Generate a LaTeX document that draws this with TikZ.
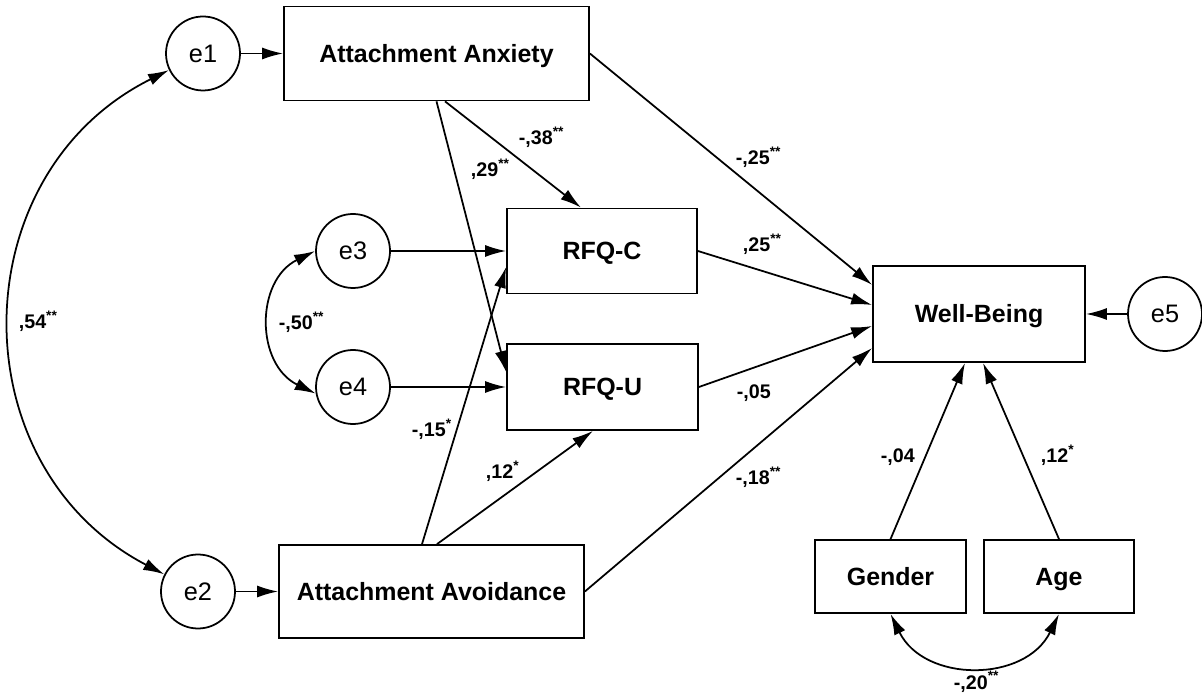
\documentclass[tikz,border=0pt]{standalone}
\usepackage{fontspec}
\setmainfont{Liberation Sans}
\usetikzlibrary{arrows.meta}

\begin{document}
\begin{tikzpicture}[line width=0.5pt,>={Latex[length=0.21cm,width=0.12cm]},
	var/.style={draw,rectangle,inner sep=0pt,text height=5.1pt,text depth=0pt,font=\fontsize{7.1}{8.5}\selectfont\bfseries},
	err/.style={draw,circle,inner sep=0pt,minimum size=0.74cm,text height=5.1pt,text depth=0pt,font=\fontsize{7.2}{8.5}\selectfont},
	coef/.style={anchor=base west,inner sep=0pt,font=\fontsize{5.6}{6.5}\selectfont\bfseries}]
	\useasboundingbox (0,0) rectangle (12.02,6.96);

	\node[var,minimum width=3.05cm,minimum height=0.94cm] (aa) at (4.365,6.425) {Attachment Anxiety};
	\node[var,minimum width=3.05cm,minimum height=0.93cm] (av) at (4.315,1.045) {Attachment Avoidance};
	\node[var,minimum width=1.90cm,minimum height=0.85cm] (rfqc) at (6.02,4.45) {RFQ-C};
	\node[var,minimum width=1.91cm,minimum height=0.86cm] (rfqu) at (6.025,3.09) {RFQ-U};
	\node[var,minimum width=2.12cm,minimum height=0.96cm] (wb) at (9.79,3.82) {Well-Being};
	\node[var,minimum width=1.51cm,minimum height=0.73cm] (gender) at (8.905,1.195) {Gender};
	\node[var,minimum width=1.50cm,minimum height=0.73cm] (age) at (10.59,1.195) {Age};

	\node[err] (e1) at (2.03,6.425) {e1};
	\node[err] (e2) at (1.98,1.045) {e2};
	\node[err] (e3) at (3.53,4.45) {e3};
	\node[err] (e4) at (3.53,3.09) {e4};
	\node[err] (e5) at (11.65,3.82) {e5};

	\draw[->] (e1) -- (aa);
	\draw[->] (e2) -- (av);
	\draw[->] (e3) -- (rfqc);
	\draw[->] (e4) -- (rfqu);
	\draw[->] (e5) -- (wb);
	\draw[->] ([xshift=0.085cm]aa.south) -- ([xshift=-0.21cm]rfqc.north);
	\draw[->] (aa.south) -- ([yshift=0.15cm]rfqu.west);
	\draw[->] ([xshift=-0.095cm]av.north) -- ([yshift=-0.16cm]rfqc.west);
	\draw[->] ([xshift=0.055cm]av.north) -- ([xshift=-0.095cm]rfqu.south);
	\draw[->] (aa.east) -- ([yshift=0.29cm]wb.west);
	\draw[->] (rfqc.east) -- ([yshift=0.09cm]wb.west);
	\draw[->] (rfqu.east) -- ([yshift=-0.12cm]wb.west);
	\draw[->] (av.east) -- ([yshift=-0.34cm]wb.west);
	\draw[->] (gender.north) -- ([xshift=-0.14cm]wb.south);
	\draw[->] (age.north) -- ([xshift=0.04cm]wb.south);
	\draw[<->] (e1.206) to[bend right=63,looseness=1.18] (e2.153);
	\draw[<->] (e3.west) to[bend right=64,looseness=1.2] (e4.190);
	\draw[<->] (gender.south) to[bend right=64,looseness=1.17] (age.south);

	\node[coef] (c38) at (5.18,5.51) {-,38\textsuperscript{**}};
	\node[coef] (c29) at (4.70,5.19) {,29\textsuperscript{**}};
	\node[coef] (c25a) at (7.35,5.31) {-,25\textsuperscript{**}};
	\node[coef] (c25b) at (7.42,4.44) {,25\textsuperscript{**}};
	\node[coef] (c05) at (7.36,2.97) {-,05};
	\node[coef] (c18) at (7.35,2.11) {-,18\textsuperscript{**}};
	\node[coef] (c04) at (8.80,2.33) {-,04};
	\node[coef] (c12a) at (10.40,2.33) {,12\textsuperscript{*}};
	\node[coef] (c15) at (4.11,2.59) {-,15\textsuperscript{*}};
	\node[coef] (c12b) at (4.85,2.17) {,12\textsuperscript{*}};
	\node[coef] (c50) at (2.78,3.66) {-,50\textsuperscript{**}};
	\node[coef] (c54) at (0.18,3.67) {,54\textsuperscript{**}};
	\node[coef] (c20) at (9.53,0.07) {-,20\textsuperscript{**}};
\end{tikzpicture}
\end{document}
